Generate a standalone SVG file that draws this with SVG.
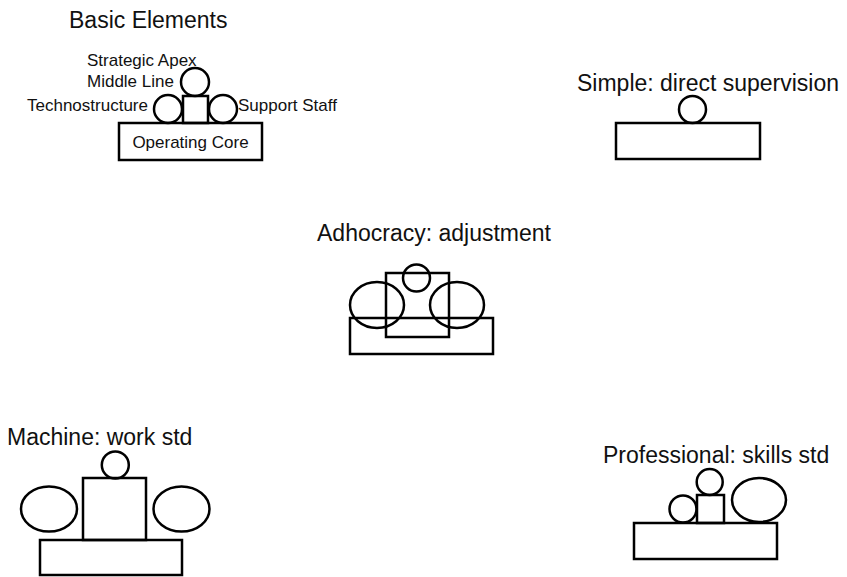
<svg xmlns="http://www.w3.org/2000/svg" width="847" height="577" viewBox="0 0 847 577">
<style>
.s{fill:none;stroke:#000;stroke-width:2.5}
.t{font-family:"Liberation Sans",Arial,sans-serif;font-size:23px;fill:#111}
.l{font-family:"Liberation Sans",Arial,sans-serif;font-size:17px;fill:#111}
</style>
<rect width="847" height="577" fill="#fff"/>
<g id="basic">
<text class="t" x="69" y="28">Basic Elements</text>
<text class="l" x="87" y="66">Strategic Apex</text>
<text class="l" x="87" y="87">Middle Line</text>
<text class="l" x="27" y="111">Technostructure</text>
<text class="l" x="238" y="111">Support Staff</text>
<circle class="s" cx="195" cy="82" r="14"/>
<rect class="s" x="183" y="96" width="25" height="27"/>
<circle class="s" cx="168" cy="109" r="14"/>
<circle class="s" cx="223" cy="109" r="14"/>
<rect class="s" x="119" y="123" width="143" height="37"/>
<text class="l" x="190.5" y="148" text-anchor="middle">Operating Core</text>
</g>
<g id="simple">
<text class="t" x="577" y="91">Simple: direct supervision</text>
<circle class="s" cx="692.5" cy="109.5" r="13.5"/>
<rect class="s" x="616" y="123" width="144" height="36"/>
</g>
<g id="adhocracy">
<text class="t" x="434" y="241" text-anchor="middle">Adhocracy: adjustment</text>
<rect class="s" x="350" y="318" width="143" height="36"/>
<rect class="s" x="386" y="273" width="63" height="64"/>
<ellipse class="s" cx="377" cy="305" rx="27" ry="23"/>
<ellipse class="s" cx="457" cy="305" rx="27" ry="23"/>
<circle class="s" cx="416.5" cy="278" r="13.5"/>
</g>
<g id="machine">
<text class="t" x="7" y="445">Machine: work std</text>
<circle class="s" cx="115.3" cy="465" r="13.5"/>
<rect class="s" x="83" y="478" width="63" height="62"/>
<ellipse class="s" cx="49" cy="509" rx="28" ry="22.5"/>
<ellipse class="s" cx="181.5" cy="509" rx="28" ry="22.5"/>
<rect class="s" x="40" y="540" width="142" height="35"/>
</g>
<g id="professional">
<text class="t" x="603" y="463">Professional: skills std</text>
<circle class="s" cx="709.7" cy="482" r="13"/>
<rect class="s" x="697" y="495" width="27" height="28"/>
<circle class="s" cx="683" cy="509" r="13.5"/>
<ellipse class="s" cx="759" cy="500" rx="27" ry="22"/>
<rect class="s" x="634" y="523" width="143" height="36"/>
</g>
<g id="connectors"></g>
</svg>
